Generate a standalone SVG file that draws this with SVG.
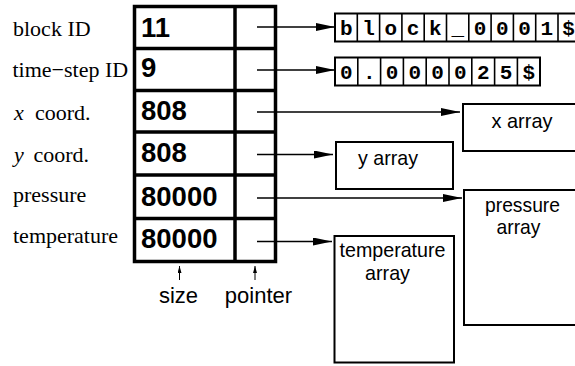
<svg xmlns="http://www.w3.org/2000/svg" width="575" height="366" viewBox="0 0 575 366">
<defs>
<marker id="ah" markerUnits="userSpaceOnUse" markerWidth="20" markerHeight="10" refX="19" refY="4" orient="auto"><path d="M0,0 L19,4 L0,8 z" fill="#000"/></marker>
<marker id="sa" markerUnits="userSpaceOnUse" markerWidth="8" markerHeight="6" refX="7" refY="2" orient="auto"><path d="M0,0 L7,2 L0,4 z" fill="#000"/></marker>
</defs>
<style>
.lbl{font-family:"Liberation Serif","Times New Roman",serif;font-size:22px;fill:#000}
.it{font-style:italic}
.num{font-family:"Liberation Sans",Arial,sans-serif;font-weight:bold;font-size:27.5px;fill:#000}
.sans{font-family:"Liberation Sans",Arial,sans-serif;font-size:22px;fill:#000;text-anchor:middle}
.nar{font-family:"Liberation Sans",Arial,sans-serif;font-size:21px;fill:#000;text-anchor:middle}
.mono{font-family:"Liberation Mono","Courier New",monospace;font-weight:bold;font-size:21px;text-anchor:middle;fill:#000}
.thick{fill:none;stroke:#000;stroke-width:3.5}
.box{fill:#fff;stroke:#000;stroke-width:2}
.cell{stroke:#000;stroke-width:1.6}
.conn{stroke:#000;stroke-width:1.6;fill:none}
.up{stroke:#000;stroke-width:1;fill:none}
</style>
<rect width="575" height="366" fill="#fff"/>

<g id="labels">
<text class="lbl" x="13" y="36">block ID</text>
<text class="lbl" x="12.5" y="76.5">time−step ID</text>
<text class="lbl it" x="14" y="120">x</text><text class="lbl" x="35" y="120">coord.</text>
<text class="lbl it" x="14" y="161.5">y</text><text class="lbl" x="33.5" y="161.5">coord.</text>
<text class="lbl" x="13" y="201.5">pressure</text>
<text class="lbl" x="13" y="243">temperature</text>
</g>

<g id="table">
<rect class="thick" x="134.5" y="6.5" width="141" height="255"/>
<line class="thick" x1="235" y1="6.5" x2="235" y2="261.5"/>
<line class="thick" x1="134.5" y1="48.5" x2="275.5" y2="48.5"/>
<line class="thick" x1="134.5" y1="90.5" x2="275.5" y2="90.5"/>
<line class="thick" x1="134.5" y1="132" x2="275.5" y2="132"/>
<line class="thick" x1="134.5" y1="175" x2="275.5" y2="175"/>
<line class="thick" x1="134.5" y1="218.5" x2="275.5" y2="218.5"/>
<text class="num" x="141" y="36.5">11</text>
<text class="num" x="141" y="77">9</text>
<text class="num" x="141" y="119.5">808</text>
<text class="num" x="141" y="161.5">808</text>
<text class="num" x="141" y="206">80000</text>
<text class="num" x="141" y="248">80000</text>
</g>

<g id="size-label">
<line class="up" x1="179.5" y1="280" x2="179.5" y2="266" marker-end="url(#sa)"/>
<text class="sans" x="178.5" y="303">size</text>
</g>
<g id="pointer-label">
<line class="up" x1="255" y1="280" x2="255" y2="266" marker-end="url(#sa)"/>
<text class="sans" x="258.5" y="303">pointer</text>
</g>

<g id="block-id-string">
<rect class="box" x="335" y="13.5" width="245.3" height="28"/>
<g class="cell">
<line x1="357.3" y1="13.5" x2="357.3" y2="41.5"/><line x1="379.6" y1="13.5" x2="379.6" y2="41.5"/>
<line x1="401.9" y1="13.5" x2="401.9" y2="41.5"/><line x1="424.2" y1="13.5" x2="424.2" y2="41.5"/>
<line x1="446.5" y1="13.5" x2="446.5" y2="41.5"/><line x1="468.8" y1="13.5" x2="468.8" y2="41.5"/>
<line x1="491.1" y1="13.5" x2="491.1" y2="41.5"/><line x1="513.4" y1="13.5" x2="513.4" y2="41.5"/>
<line x1="535.7" y1="13.5" x2="535.7" y2="41.5"/><line x1="558" y1="13.5" x2="558" y2="41.5"/>
</g>
<text class="mono" x="346.2" y="34.5">b</text><text class="mono" x="368.5" y="34.5">l</text>
<text class="mono" x="390.8" y="34.5">o</text><text class="mono" x="413.1" y="34.5">c</text>
<text class="mono" x="435.4" y="34.5">k</text><text class="mono" x="457.7" y="34.5">_</text>
<text class="mono" x="480" y="34.5">0</text><text class="mono" x="502.3" y="34.5">0</text>
<text class="mono" x="524.6" y="34.5">0</text><text class="mono" x="546.9" y="34.5">1</text>
<text class="mono" x="568.6" y="34.5">$</text>
</g>

<g id="timestep-string">
<rect class="box" x="335" y="57.5" width="205" height="28"/>
<g class="cell">
<line x1="357.8" y1="57.5" x2="357.8" y2="85.5"/><line x1="380.6" y1="57.5" x2="380.6" y2="85.5"/>
<line x1="403.4" y1="57.5" x2="403.4" y2="85.5"/><line x1="426.2" y1="57.5" x2="426.2" y2="85.5"/>
<line x1="449" y1="57.5" x2="449" y2="85.5"/><line x1="471.8" y1="57.5" x2="471.8" y2="85.5"/>
<line x1="494.6" y1="57.5" x2="494.6" y2="85.5"/><line x1="517.4" y1="57.5" x2="517.4" y2="85.5"/>
</g>
<text class="mono" x="346.4" y="78.5">0</text><text class="mono" x="369.2" y="78.5">.</text>
<text class="mono" x="392" y="78.5">0</text><text class="mono" x="414.8" y="78.5">0</text>
<text class="mono" x="437.6" y="78.5">0</text><text class="mono" x="460.4" y="78.5">0</text>
<text class="mono" x="483.2" y="78.5">2</text><text class="mono" x="506" y="78.5">5</text>
<text class="mono" x="528.8" y="78.5">$</text>
</g>

<g id="x-array">
<rect class="box" x="463" y="104" width="120" height="47"/>
<text class="nar" x="522" y="128" textLength="61" lengthAdjust="spacingAndGlyphs">x array</text>
</g>
<g id="y-array">
<rect class="box" x="336" y="142" width="117" height="47"/>
<text class="nar" x="388" y="165" textLength="60" lengthAdjust="spacingAndGlyphs">y array</text>
</g>
<g id="pressure-array">
<rect class="box" x="464" y="190" width="120" height="135"/>
<text class="nar" x="522.5" y="211.5" textLength="75" lengthAdjust="spacingAndGlyphs">pressure</text>
<text class="nar" x="518.5" y="234" textLength="44" lengthAdjust="spacingAndGlyphs">array</text>
</g>
<g id="temperature-array">
<rect class="box" x="334.5" y="236" width="119.5" height="126.5"/>
<text class="nar" x="392.5" y="257" textLength="106" lengthAdjust="spacingAndGlyphs">temperature</text>
<text class="nar" x="387.5" y="279.5" textLength="45" lengthAdjust="spacingAndGlyphs">array</text>
</g>

<g id="connectors">
<line class="conn" x1="257" y1="27" x2="335" y2="27" marker-end="url(#ah)"/>
<line class="conn" x1="257" y1="70" x2="335" y2="70" marker-end="url(#ah)"/>
<line class="conn" x1="257" y1="112" x2="460" y2="112" marker-end="url(#ah)"/>
<line class="conn" x1="257" y1="154.5" x2="333" y2="154.5" marker-end="url(#ah)"/>
<line class="conn" x1="257" y1="198" x2="462" y2="198" marker-end="url(#ah)"/>
<line class="conn" x1="257" y1="241.5" x2="332" y2="241.5" marker-end="url(#ah)"/>
</g>
</svg>
